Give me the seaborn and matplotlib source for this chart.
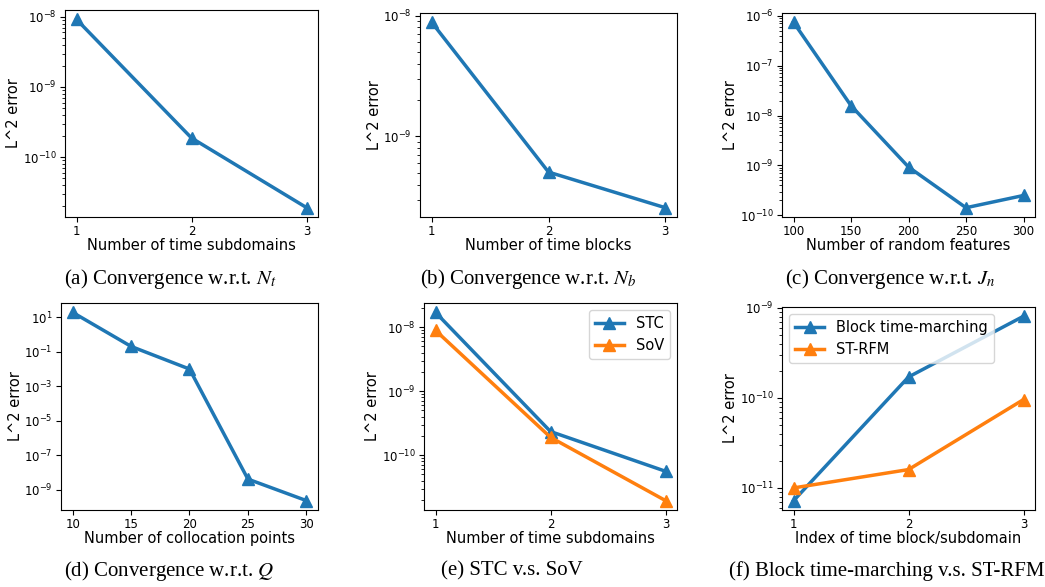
import matplotlib
matplotlib.use("Agg")
import matplotlib.pyplot as plt
import seaborn as sns

plt.rcParams["mathtext.fontset"] = "stix"

blue = "#1f77b4"
orange = "#ff7f0e"

# (a) number of time subdomains
nt = [1, 2, 3]
err_nt = [9.2e-9, 1.87e-10, 1.9e-11]

# (b) number of time blocks
nb = [1, 2, 3]
err_nb = [8.8e-9, 5.07e-10, 2.57e-10]

# (c) number of random features
jn = [100, 150, 200, 250, 300]
err_jn = [7.4e-7, 1.58e-8, 9.3e-10, 1.42e-10, 2.5e-10]

# (d) number of collocation points
q = [10, 15, 20, 25, 30]
err_q = [18.6, 0.2, 0.0098, 4.2e-9, 2.4e-10]

# (e) STC vs SoV
sub = [1, 2, 3]
err_stc = [1.7e-8, 2.34e-10, 5.6e-11]
err_sov = [8.9e-9, 1.9e-10, 1.95e-11]

# (f) block time-marching vs ST-RFM
idx = [1, 2, 3]
err_block = [7.2e-12, 1.71e-10, 8.1e-10]
err_strfm = [1.0e-11, 1.6e-11, 9.6e-11]

W, H = 1045, 587
fig = plt.figure(figsize=(W / 100, H / 100), dpi=100)


def make_ax(l, t, r, b):
    return fig.add_axes([l / W, 1 - b / H, (r - l) / W, (b - t) / H])


def draw(ax, x, y, color, label=None):
    sns.lineplot(x=x, y=y, ax=ax, color=color, marker="^", markersize=9,
                 linewidth=2.5, markeredgecolor=color, markeredgewidth=1,
                 label=label)


def finish(ax, x, xlabel):
    ax.set_yscale("log")
    ax.set_xticks(x)
    ax.set_xlabel(xlabel, fontsize=10.5, labelpad=0)
    ax.set_ylabel("L^2 error", fontsize=10.5, labelpad=1)
    ax.tick_params(labelsize=8.5, pad=2.5)


ax = make_ax(65, 10, 318, 217)
draw(ax, nt, err_nt, blue)
finish(ax, nt, "Number of time subdomains")

ax = make_ax(420, 13, 677, 217)
draw(ax, nb, err_nb, blue)
finish(ax, nb, "Number of time blocks")

ax = make_ax(782, 13, 1035, 217)
draw(ax, jn, err_jn, blue)
finish(ax, jn, "Number of random features")

ax = make_ax(61, 303, 318, 510)
draw(ax, q, err_q, blue)
finish(ax, q, "Number of collocation points")

ax = make_ax(424, 303, 677, 510)
draw(ax, sub, err_stc, blue, "STC")
draw(ax, sub, err_sov, orange, "SoV")
finish(ax, sub, "Number of time subdomains")
ax.legend(loc="upper right", fontsize=10.5)

ax = make_ax(782, 307, 1035, 510)
draw(ax, idx, err_block, blue, "Block time-marching")
draw(ax, idx, err_strfm, orange, "ST-RFM")
finish(ax, idx, "Index of time block/subdomain")
ax.legend(loc="upper left", fontsize=10.5)

captions = [
    (170, 279, r"(a) Convergence w.r.t. $N_t$"),
    (528, 279, r"(b) Convergence w.r.t. $N_b$"),
    (890, 279, r"(c) Convergence w.r.t. $J_n$"),
    (169, 571, r"(d) Convergence w.r.t. $Q$"),
    (512, 571, r"(e) STC v.s. SoV"),
    (887, 571, r"(f) Block time-marching v.s. ST-RFM"),
]
for cx, cy, txt in captions:
    fig.text(cx / W, 1 - cy / H, txt, ha="center", va="center",
             fontsize=15, family="Liberation Serif")

fig.savefig("out.png", dpi=100)
